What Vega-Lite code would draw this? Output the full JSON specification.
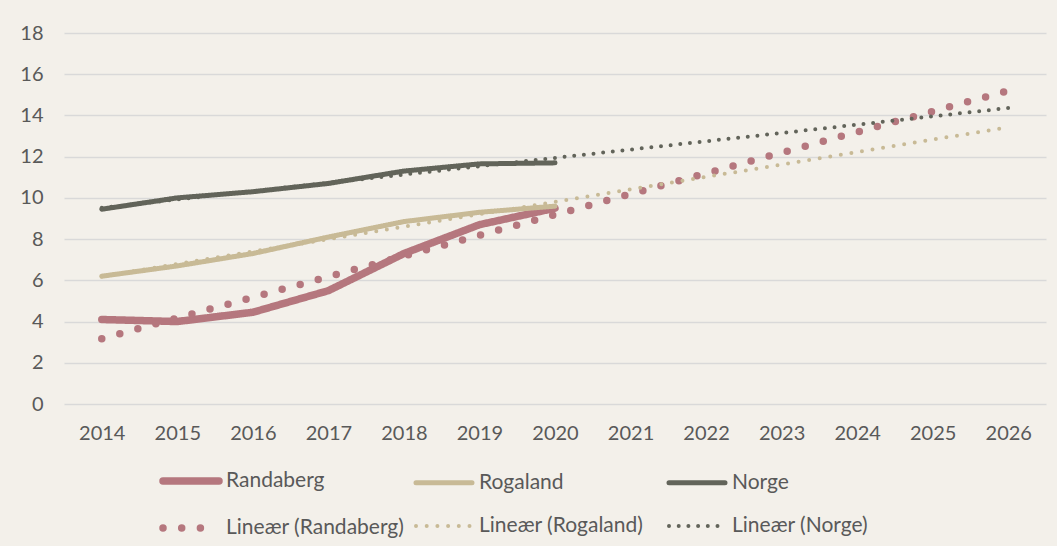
{
  "$schema": "https://vega.github.io/schema/vega-lite/v6.json",
  "width": 982,
  "height": 371,
  "autosize": {"type": "none"},
  "padding": {"left": 64, "top": 33, "right": 11, "bottom": 142},
  "background": "#f3f0ea",
  "config": {"view": {"stroke": null}, "font": "Lato"},
  "data": {
    "values": [
      {"year": 2014, "value": 4.1, "series": "Randaberg", "kind": "actual"},
      {"year": 2015, "value": 4.0, "series": "Randaberg", "kind": "actual"},
      {"year": 2016, "value": 4.45, "series": "Randaberg", "kind": "actual"},
      {"year": 2017, "value": 5.5, "series": "Randaberg", "kind": "actual"},
      {"year": 2018, "value": 7.3, "series": "Randaberg", "kind": "actual"},
      {"year": 2019, "value": 8.7, "series": "Randaberg", "kind": "actual"},
      {"year": 2020, "value": 9.5, "series": "Randaberg", "kind": "actual"},
      {"year": 2014, "value": 6.2, "series": "Rogaland", "kind": "actual"},
      {"year": 2015, "value": 6.7, "series": "Rogaland", "kind": "actual"},
      {"year": 2016, "value": 7.3, "series": "Rogaland", "kind": "actual"},
      {"year": 2017, "value": 8.1, "series": "Rogaland", "kind": "actual"},
      {"year": 2018, "value": 8.85, "series": "Rogaland", "kind": "actual"},
      {"year": 2019, "value": 9.3, "series": "Rogaland", "kind": "actual"},
      {"year": 2020, "value": 9.6, "series": "Rogaland", "kind": "actual"},
      {"year": 2014, "value": 9.45, "series": "Norge", "kind": "actual"},
      {"year": 2015, "value": 10.0, "series": "Norge", "kind": "actual"},
      {"year": 2016, "value": 10.3, "series": "Norge", "kind": "actual"},
      {"year": 2017, "value": 10.7, "series": "Norge", "kind": "actual"},
      {"year": 2018, "value": 11.3, "series": "Norge", "kind": "actual"},
      {"year": 2019, "value": 11.65, "series": "Norge", "kind": "actual"},
      {"year": 2020, "value": 11.7, "series": "Norge", "kind": "actual"},
      {"year": 2014, "value": 3.17, "series": "Lineær (Randaberg)", "kind": "trend"},
      {"year": 2026, "value": 15.2, "series": "Lineær (Randaberg)", "kind": "trend"},
      {"year": 2014, "value": 6.19, "series": "Lineær (Rogaland)", "kind": "trend"},
      {"year": 2026, "value": 13.43, "series": "Lineær (Rogaland)", "kind": "trend"},
      {"year": 2014, "value": 9.52, "series": "Lineær (Norge)", "kind": "trend"},
      {"year": 2026, "value": 14.36, "series": "Lineær (Norge)", "kind": "trend"}
    ]
  },
  "encoding": {
    "x": {
      "field": "year",
      "type": "ordinal",
      "scale": {"type": "point", "padding": 0.5, "domain": [2014, 2015, 2016, 2017, 2018, 2019, 2020, 2021, 2022, 2023, 2024, 2025, 2026]},
      "axis": {"title": null, "labelAngle": 0, "domain": false, "ticks": false, "grid": false, "labelFontSize": 20, "labelColor": "#595959", "labelPadding": 19}
    },
    "y": {
      "field": "value",
      "type": "quantitative",
      "scale": {"domain": [0, 18], "nice": false},
      "axis": {"title": null, "values": [0, 2, 4, 6, 8, 10, 12, 14, 16, 18], "domain": false, "ticks": false, "gridColor": "#d9d9d9", "gridWidth": 1.5, "labelFontSize": 20, "labelColor": "#595959", "labelPadding": 21}
    },
    "color": {
      "field": "series",
      "type": "nominal",
      "scale": {
        "domain": ["Randaberg", "Rogaland", "Norge", "Lineær (Randaberg)", "Lineær (Rogaland)", "Lineær (Norge)"],
        "range": ["#b5777e", "#c8ba96", "#62645a", "#b5777e", "#c8ba96", "#62645a"]
      },
      "legend": {
        "title": null,
        "orient": "none",
        "legendX": 95,
        "legendY": 416,
        "direction": "horizontal",
        "columns": 3,
        "gridAlign": "all",
        "columnPadding": 1,
        "rowPadding": -26,
        "padding": 0,
        "symbolType": "stroke",
        "symbolSize": 3136,
        "labelOffset": 3,
        "labelFontSize": 21,
        "labelColor": "#595959",
        "labelLimit": 400,
        "encode": {"symbols": {"update": {"strokeCap": {"value": "round"}}}}
      }
    },
    "strokeDash": {
      "field": "series",
      "type": "nominal",
      "scale": {
        "domain": ["Randaberg", "Rogaland", "Norge", "Lineær (Randaberg)", "Lineær (Rogaland)", "Lineær (Norge)"],
        "range": [[1, 0], [1, 0], [1, 0], [0, 18.7], [0, 10.7], [0, 9.7]]
      }
    },
    "strokeWidth": {
      "field": "series",
      "type": "nominal",
      "scale": {
        "type": "ordinal",
        "domain": ["Randaberg", "Rogaland", "Norge", "Lineær (Randaberg)", "Lineær (Rogaland)", "Lineær (Norge)"],
        "range": [7.5, 5, 5, 7.5, 4, 4]
      }
    }
  },
  "layer": [
    {
      "transform": [{"filter": "datum.kind == 'actual'"}],
      "mark": {"type": "line", "strokeCap": "round", "strokeJoin": "round"}
    },
    {
      "transform": [{"filter": "datum.kind == 'trend'"}],
      "mark": {"type": "line", "strokeCap": "round"}
    }
  ]
}
